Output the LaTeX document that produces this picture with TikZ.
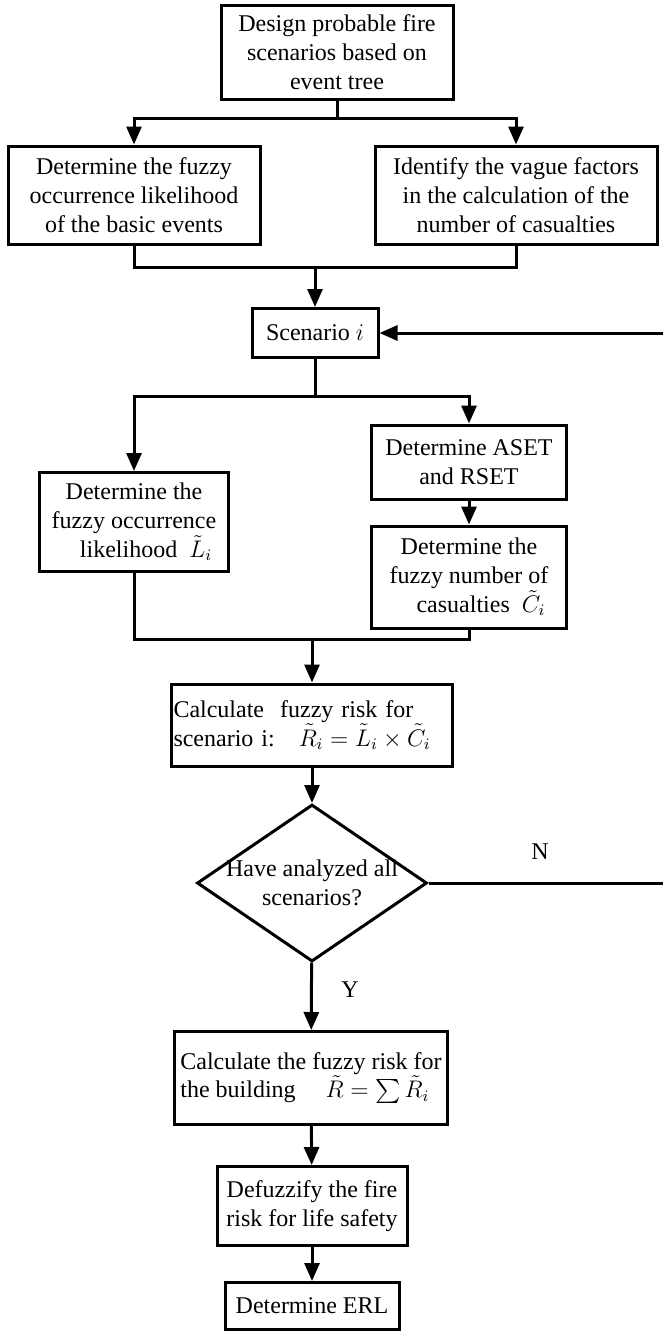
\documentclass[tikz,border=0pt]{standalone}
\usepackage{amsmath}
\usepackage{fontspec}
\setmainfont{Liberation Serif}
\usetikzlibrary{shapes.geometric, arrows.meta}

\tikzset{
  box/.style={draw, line width=1.5pt, align=center, inner sep=2pt,
    font=\fontsize{12}{14.4}\selectfont},
  decision/.style={draw, diamond, line width=1.5pt, align=center, aspect=1.46,
    inner sep=-4pt, font=\fontsize{12}{14.4}\selectfont},
  line/.style={line width=1.5pt},
  arr/.style={line width=1.5pt, -{Triangle[width=7.5pt,length=9pt]}},
  lab/.style={font=\fontsize{12}{14.4}\selectfont}
}

\begin{document}
\begin{tikzpicture}[x=0.5pt, y=-0.5pt]
\useasboundingbox (0,0) rectangle (663,1335);

% boxes
\node[box, minimum width=116pt, minimum height=47pt] (design) at (337,52)
  {Design probable fire\\scenarios based on\\event tree};
\node[box, minimum width=126pt, minimum height=49pt] (basic) at (134,195)
  {Determine the fuzzy\\occurrence likelihood\\of the basic events};
\node[box, minimum width=141pt, minimum height=49pt] (vague) at (516,195)
  {Identify the vague factors\\in the calculation of the\\number of casualties};
\node[box, minimum width=63pt, minimum height=24.5pt] (scen) at (315,333)
  {Scenario $i$};
\node[box, minimum width=94.5pt, minimum height=49.5pt] (likel) at (134,522)
  {Determine the\\fuzzy occurrence\\\quad likelihood\ \ $\tilde{L}_i$};
\node[box, minimum width=97.5pt, minimum height=37pt] (aset) at (469,462)
  {Determine ASET\\and RSET};
\node[box, minimum width=97.5pt, minimum height=51pt] (casu) at (469,577)
  {Determine the\\fuzzy number of\\\quad casualties\ \ $\tilde{C}_i$};
\node[box, align=left, inner sep=1pt, text width=138.5pt, minimum height=41pt] (calc) at (312,725)
  {Calculate\ \ fuzzy risk for\\scenario i:\quad $\tilde{R}_i=\tilde{L}_i\times\tilde{C}_i$};
\node[decision, minimum width=115pt, minimum height=78.5pt] (dec) at (312,883)
  {Have analyzed all\\scenarios?};
\node[box, align=left, inner sep=1pt, minimum width=136.5pt, minimum height=46.5pt] (build) at (311,1078)
  {Calculate the fuzzy risk for\\the building\quad\ $\tilde{R}=\sum\tilde{R}_i$};
\node[box, minimum width=95pt, minimum height=39.5pt] (defuz) at (312,1206)
  {Defuzzify the fire\\risk for life safety};
\node[box, minimum width=87pt, minimum height=23.5pt] (erl) at (312,1306)
  {Determine ERL};

% labels
\node[lab] (nlab) at (540,852) {N};
\node[lab] (ylab) at (350,990) {Y};

% connectors
\draw[arr] (design.south) -- ++(0,18) -| (basic.north);
\draw[arr] (design.south) -- ++(0,18) -| (vague.north);
\coordinate (m1) at (315,267);
\draw[line] (basic.south) |- (m1) -| (vague.south);
\draw[arr] (m1) -- (scen.north);
\coordinate (s1) at (315,396);
\draw[line] (scen.south) -- (s1);
\draw[arr] (s1) -| (likel.north);
\draw[arr] (s1) -| (aset.north);
\draw[arr] (aset) -- (casu);
\coordinate (m2) at (312,639);
\draw[line] (likel.south) |- (m2) -| (casu.south);
\draw[arr] (m2) -- (calc.north);
\draw[arr] (calc) -- (dec);
\draw[arr] (dec) -- (build);
\draw[arr] (build) -- (defuz);
\draw[arr] (defuz) -- (erl);
\coordinate (back) at (672,600);
\draw[arr] (dec.east) -- (dec.east -| back) |- (scen.east);
\end{tikzpicture}
\end{document}
